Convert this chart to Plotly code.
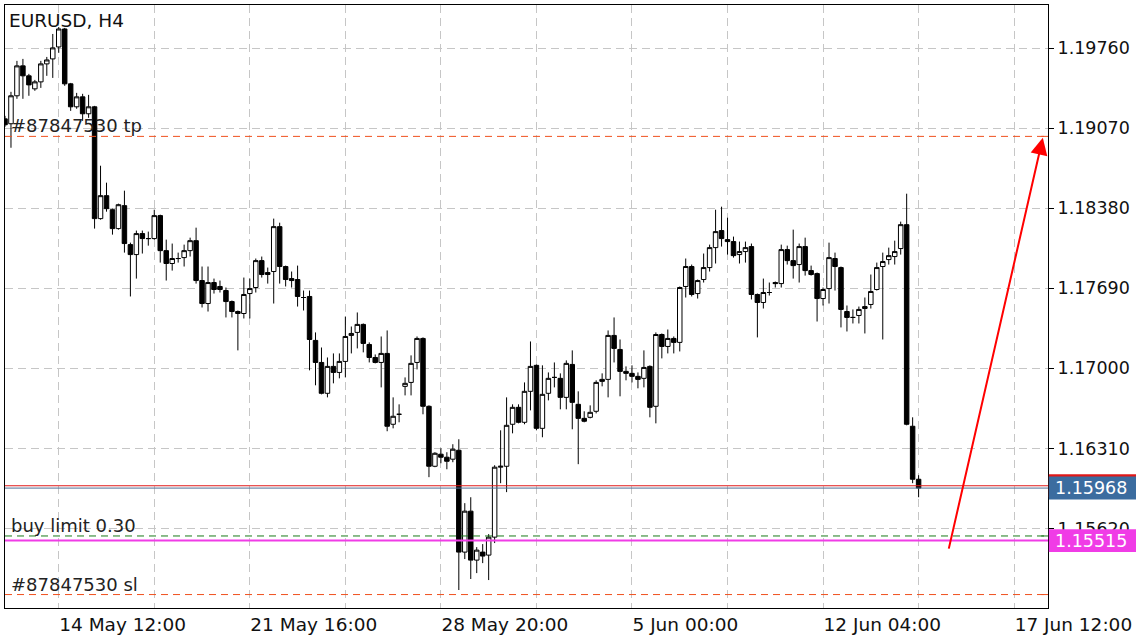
import plotly.graph_objects as go

# ---------------- data (EURUSD H4) ----------------
title_text = "EURUSD, H4"
first_bar = -1  # bar index of the first (partly hidden) candle

open_ = [1.19151, 1.19109, 1.19350, 1.19608, 1.19522, 1.19410, 1.19470, 1.19625, 1.19668, 1.19771,
         1.19926, 1.19453, 1.19255, 1.19341, 1.19195, 1.19255, 1.18291, 1.18489, 1.18368, 1.18205,
         1.18403, 1.18067, 1.17981, 1.18162, 1.18119, 1.18119, 1.18317, 1.18015, 1.17904, 1.17947,
         1.17955, 1.18015, 1.18101, 1.17757, 1.17559, 1.17740, 1.17706, 1.17671, 1.17576, 1.17490,
         1.17473, 1.17645, 1.17697, 1.17929, 1.17826, 1.17835, 1.18222, 1.17878, 1.17774, 1.17766,
         1.17611, 1.17620, 1.17241, 1.17051, 1.16785, 1.17017, 1.16965, 1.17060, 1.17284, 1.17310,
         1.17379, 1.17206, 1.17094, 1.17051, 1.17129, 1.16518, 1.16604, 1.16845, 1.16879, 1.17051,
         1.17258, 1.16673, 1.16156, 1.16260, 1.16234, 1.16217, 1.16294, 1.15416, 1.15769, 1.15347,
         1.15416, 1.15390, 1.15545, 1.16148, 1.16156, 1.16518, 1.16664, 1.16535, 1.16802, 1.17026,
         1.16483, 1.16785, 1.16922, 1.16914, 1.16750, 1.17034, 1.16690, 1.16569, 1.16578, 1.16630,
         1.16905, 1.16905, 1.17284, 1.17163, 1.16974, 1.16957, 1.16931, 1.16914, 1.17017, 1.16673,
         1.17292, 1.17189, 1.17258, 1.17224, 1.17706, 1.17878, 1.17645, 1.17766, 1.17869, 1.18041,
         1.18188, 1.18110, 1.18093, 1.17981, 1.18007, 1.18050, 1.17637, 1.17568, 1.17654, 1.17740,
         1.17731, 1.18024, 1.17929, 1.17895, 1.18050, 1.17843, 1.17817, 1.17602, 1.17688, 1.17947,
         1.17869, 1.17490, 1.17439, 1.17456, 1.17516, 1.17551, 1.17680, 1.17878, 1.17938, 1.17964,
         1.18033, 1.18239, 1.16501, 1.16044]

high_ = [1.19177, 1.19384, 1.19651, 1.19668, 1.19539, 1.19487, 1.19651, 1.19685, 1.19883, 1.19943,
         1.19935, 1.19461, 1.19375, 1.19367, 1.19358, 1.19263, 1.18747, 1.18601, 1.18377, 1.18420,
         1.18532, 1.18084, 1.18188, 1.18188, 1.18179, 1.18368, 1.18325, 1.18110, 1.18076, 1.17998,
         1.18067, 1.18127, 1.18213, 1.17878, 1.17878, 1.17774, 1.17757, 1.17697, 1.17585, 1.17499,
         1.17783, 1.17774, 1.17947, 1.17964, 1.17869, 1.18291, 1.18256, 1.17886, 1.17835, 1.17886,
         1.17671, 1.17671, 1.17310, 1.17180, 1.17094, 1.17129, 1.17129, 1.17447, 1.17361, 1.17482,
         1.17387, 1.17224, 1.17120, 1.17275, 1.17327, 1.16750, 1.16690, 1.16922, 1.17112, 1.17275,
         1.17267, 1.16681, 1.16277, 1.16311, 1.16277, 1.16346, 1.16389, 1.15838, 1.15889, 1.15459,
         1.15485, 1.15571, 1.16165, 1.16466, 1.16750, 1.16690, 1.16690, 1.16879, 1.17232, 1.17034,
         1.17026, 1.16965, 1.17051, 1.16957, 1.17069, 1.17155, 1.16802, 1.16630, 1.16681, 1.16897,
         1.16957, 1.17327, 1.17439, 1.17249, 1.17017, 1.17026, 1.16965, 1.17155, 1.17026, 1.17310,
         1.17301, 1.17335, 1.17275, 1.17706, 1.17947, 1.17895, 1.17766, 1.17990, 1.18067, 1.18368,
         1.18394, 1.18299, 1.18136, 1.18093, 1.18093, 1.18076, 1.17645, 1.17774, 1.17740, 1.17749,
         1.18067, 1.18058, 1.18196, 1.18076, 1.18127, 1.17886, 1.17826, 1.17697, 1.18084, 1.17998,
         1.17878, 1.17542, 1.17508, 1.17533, 1.17611, 1.17809, 1.17912, 1.17998, 1.18041, 1.18101,
         1.18265, 1.18506, 1.16578, 1.16079]

low_ = [1.19083, 1.18902, 1.19324, 1.19324, 1.19350, 1.19393, 1.19418, 1.19522, 1.19504, 1.19720,
        1.19436, 1.19220, 1.19238, 1.19134, 1.19160, 1.18205, 1.18282, 1.18351, 1.18153, 1.18196,
        1.17998, 1.17620, 1.17774, 1.17990, 1.18058, 1.18110, 1.17912, 1.17757, 1.17843, 1.17912,
        1.17878, 1.17964, 1.17731, 1.17525, 1.17490, 1.17645, 1.17654, 1.17439, 1.17439, 1.17155,
        1.17430, 1.17430, 1.17654, 1.17783, 1.17731, 1.17559, 1.17731, 1.17706, 1.17697, 1.17533,
        1.17499, 1.16983, 1.16854, 1.16776, 1.16750, 1.16871, 1.16914, 1.16922, 1.17129, 1.17172,
        1.17138, 1.17051, 1.17043, 1.16836, 1.16458, 1.16483, 1.16535, 1.16767, 1.16767, 1.16991,
        1.16604, 1.16062, 1.16148, 1.16182, 1.16130, 1.16191, 1.15089, 1.15356, 1.15184, 1.15235,
        1.15321, 1.15175, 1.15494, 1.16010, 1.15933, 1.16440, 1.16526, 1.16518, 1.16638, 1.16466,
        1.16406, 1.16724, 1.16836, 1.16647, 1.16647, 1.16475, 1.16174, 1.16535, 1.16569, 1.16612,
        1.16845, 1.16750, 1.17051, 1.16759, 1.16897, 1.16879, 1.16828, 1.16836, 1.16578, 1.16526,
        1.17086, 1.17129, 1.17129, 1.17146, 1.17611, 1.17620, 1.17602, 1.17740, 1.17835, 1.17904,
        1.18050, 1.17981, 1.17955, 1.17904, 1.17912, 1.17594, 1.17267, 1.17516, 1.17628, 1.17697,
        1.17697, 1.17895, 1.17774, 1.17740, 1.17800, 1.17800, 1.17404, 1.17542, 1.17559, 1.17671,
        1.17353, 1.17318, 1.17387, 1.17387, 1.17301, 1.17516, 1.17671, 1.17249, 1.17895, 1.17895,
        1.17981, 1.16509, 1.16010, 1.15889]

close_ = [1.19100, 1.19350, 1.19608, 1.19522, 1.19444, 1.19470, 1.19625, 1.19659, 1.19763, 1.19926,
          1.19453, 1.19255, 1.19341, 1.19195, 1.19255, 1.18291, 1.18489, 1.18377, 1.18205, 1.18411,
          1.18076, 1.17981, 1.18162, 1.18119, 1.18119, 1.18317, 1.18015, 1.17904, 1.17947, 1.17947,
          1.18015, 1.18101, 1.17757, 1.17559, 1.17740, 1.17680, 1.17680, 1.17576, 1.17490, 1.17473,
          1.17637, 1.17688, 1.17929, 1.17809, 1.17809, 1.18222, 1.17878, 1.17766, 1.17757, 1.17620,
          1.17611, 1.17249, 1.17051, 1.16785, 1.17017, 1.16965, 1.17060, 1.17275, 1.17301, 1.17379,
          1.17215, 1.17094, 1.17051, 1.17129, 1.16501, 1.16587, 1.16604, 1.16871, 1.17043, 1.17258,
          1.16673, 1.16156, 1.16268, 1.16234, 1.16199, 1.16303, 1.15416, 1.15769, 1.15347, 1.15433,
          1.15382, 1.15545, 1.16148, 1.16156, 1.16509, 1.16664, 1.16535, 1.16802, 1.17017, 1.16483,
          1.16776, 1.16914, 1.16922, 1.16750, 1.17043, 1.16707, 1.16569, 1.16544, 1.16621, 1.16879,
          1.16888, 1.17284, 1.17172, 1.16974, 1.16957, 1.16931, 1.16905, 1.17008, 1.16664, 1.17292,
          1.17189, 1.17258, 1.17224, 1.17697, 1.17878, 1.17637, 1.17757, 1.17869, 1.18041, 1.18179,
          1.18119, 1.18093, 1.17972, 1.18007, 1.18041, 1.17637, 1.17568, 1.17654, 1.17654, 1.17731,
          1.18024, 1.17929, 1.17886, 1.18050, 1.17843, 1.17809, 1.17602, 1.17680, 1.17955, 1.17878,
          1.17508, 1.17439, 1.17439, 1.17508, 1.17533, 1.17663, 1.17869, 1.17921, 1.17972, 1.18007,
          1.18239, 1.16518, 1.16044, 1.15968]

# time-axis labels (bar index -> label); empty strings are grid-only positions
tick_bars = [8, 24, 40, 56, 72, 88, 104, 120, 136, 152, 168]
tick_text = ["14 May 12:00", "", "21 May 16:00", "", "28 May 20:00", "",
             "5 Jun 00:00", "", "12 Jun 04:00", "", "17 Jun 12:00"]
price_ticks = [1.15620, 1.16310, 1.17000, 1.17690, 1.18380, 1.19070, 1.19760]

tp_price = 1.19000
sl_price = 1.15050
buy_limit_price = 1.15555
level_price = 1.15515
bid_price = 1.15968
ask_price = 1.15988
order_id = "#87847530"
buy_limit_text = "buy limit 0.30"
arrow_start = (157.0, 1.15433)
arrow_end = (172.8, 1.18988)

x_range = [-1.0, 173.67]
y_range = [1.149341, 1.201327]

bars = list(range(first_bar, first_bar + len(open_)))

# ---------------- figure ----------------
fig = go.Figure()
fig.add_trace(go.Candlestick(
    x=bars, open=open_, high=high_, low=low_, close=close_,
    increasing=dict(line=dict(color="black", width=1), fillcolor="white"),
    decreasing=dict(line=dict(color="black", width=1), fillcolor="black"),
    whiskerwidth=0, showlegend=False, hoverinfo="skip",
))

font_family = "DejaVu Sans"
shapes = []


def hline(price, color, width=1, dash="solid"):
    shapes.append(dict(type="line", xref="paper", x0=0, x1=1, yref="y",
                       y0=price, y1=price, line=dict(color=color, width=width, dash=dash),
                       layer="above"))


hline(tp_price, "#f0501e", 1, "7px,5px")
hline(sl_price, "#f0501e", 1, "7px,5px")
hline(buy_limit_price, "#1a7a1a", 1, "7px,5px")
hline(level_price, "#f03ce6", 2)
hline(ask_price, "#e01818", 1)
hline(bid_price, "#4f6f96", 1)

# little solid stubs at the right edge of the order lines
for p, c in [(tp_price, "#f0501e"), (sl_price, "#f0501e"), (buy_limit_price, "#1a7a1a")]:
    shapes.append(dict(type="line", xref="paper", x0=0.9935, x1=1.0, yref="y",
                       y0=p, y1=p, line=dict(color=c, width=1), layer="above"))

# price boxes on the right axis
box_half = 0.00099
x_box0 = 1.0008
x_box1 = 1.09
for p, c in [(ask_price, "#e01818"), (bid_price, "#3b6c9f"), (level_price, "#f03ce6")]:
    shapes.append(dict(type="rect", xref="paper", x0=x_box0, x1=x_box1, yref="y",
                       y0=p - box_half, y1=p + box_half, fillcolor=c,
                       line=dict(width=0), layer="above"))

annotations = [
    dict(text=title_text, xref="paper", yref="paper", x=0.0015, y=0.9745,
         xanchor="left", yanchor="middle", showarrow=False,
         font=dict(family=font_family, size=18.5, color="#111111")),
    dict(text=f"{order_id} tp", xref="x", yref="y", x=-0.3, y=1.19091,
         xanchor="left", yanchor="middle", showarrow=False,
         font=dict(family=font_family, size=18, color="#222222")),
    dict(text=buy_limit_text, xref="x", yref="y", x=-0.3, y=1.15648,
         xanchor="left", yanchor="middle", showarrow=False,
         font=dict(family=font_family, size=18, color="#222222")),
    dict(text=f"{order_id} sl", xref="x", yref="y", x=-0.3, y=1.15141,
         xanchor="left", yanchor="middle", showarrow=False,
         font=dict(family=font_family, size=18, color="#222222")),
    dict(text=f"{bid_price:.5f}", xref="paper", yref="y", x=1.0045, y=bid_price,
         xanchor="left", yanchor="middle", showarrow=False,
         font=dict(family=font_family, size=17.5, color="white")),
    dict(text=f"{level_price:.5f}", xref="paper", yref="y", x=1.0045, y=level_price,
         xanchor="left", yanchor="middle", showarrow=False,
         font=dict(family=font_family, size=17.5, color="white")),
    dict(text="", x=arrow_end[0], y=arrow_end[1], xref="x", yref="y",
         ax=arrow_start[0], ay=arrow_start[1], axref="x", ayref="y",
         showarrow=True, arrowhead=2, arrowsize=1.7, arrowwidth=2,
         arrowcolor="#ff0000", standoff=0, startstandoff=0),
]

grid_color = "#c6c6c6"
fig.update_layout(
    width=1136, height=640,
    margin=dict(l=4, r=84, t=4, b=32, pad=0),
    paper_bgcolor="white", plot_bgcolor="white",
    font=dict(family=font_family, size=18, color="#111111"),
    showlegend=False,
    boxgap=0, boxgroupgap=0.25,
    shapes=shapes, annotations=annotations,
    xaxis=dict(
        range=x_range, tickmode="array", tickvals=tick_bars, ticktext=tick_text,
        ticks="", showgrid=True, gridcolor=grid_color, gridwidth=1, griddash="8px,5px",
        showline=True, linecolor="black", linewidth=1, mirror=True,
        zeroline=False, rangeslider=dict(visible=False),
        ticklabelposition="outside right",
        tickfont=dict(family=font_family, size=18.5, color="#111111"),
    ),
    yaxis=dict(
        range=y_range, side="right", tickmode="array", tickvals=price_ticks,
        tickformat=".5f", ticks="outside", ticklen=5, tickcolor="black",
        showgrid=True, gridcolor=grid_color, gridwidth=1, griddash="8px,5px",
        showline=True, linecolor="black", linewidth=1, mirror=True, zeroline=False,
        tickfont=dict(family=font_family, size=17.5, color="#111111"),
    ),
)

fig.write_html("out.html",
               config={"displayModeBar": False, "staticPlot": True},
               post_script="document.body.style.margin='0';document.body.style.padding='0';")
